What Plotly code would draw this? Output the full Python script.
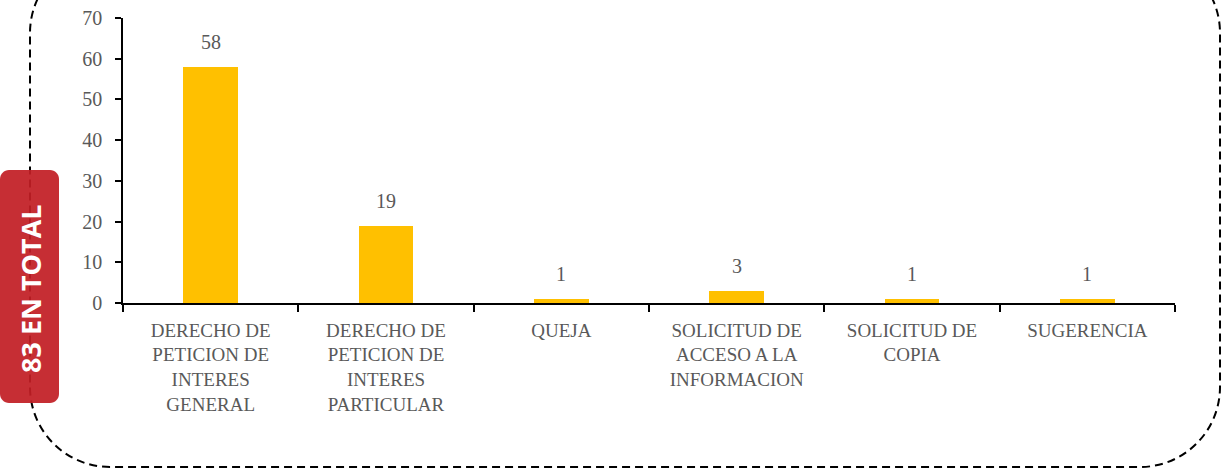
import plotly.graph_objects as go

categories = [
    "DERECHO DE<br>PETICION DE<br>INTERES<br>GENERAL",
    "DERECHO DE<br>PETICION DE<br>INTERES<br>PARTICULAR",
    "QUEJA",
    "SOLICITUD DE<br>ACCESO A LA<br>INFORMACION",
    "SOLICITUD DE<br>COPIA",
    "SUGERENCIA",
]
values = [58, 19, 1, 3, 1, 1]
total_label = "83 EN TOTAL"

SERIF = "Liberation Serif, Times New Roman, DejaVu Serif, serif"

W, H = 1229, 476
L, R, T, B = 123, 54, 18, 173
PW, PH = W - L - R, H - T - B


def px(x):
    return (x - L) / PW


def py(y):
    return (H - B - y) / PH


def rounded_path(x0, y0, x1, y1, r):
    k = 0.5523 * r
    pts = [
        ("M", [(x0 + r, y0)]),
        ("L", [(x1 - r, y0)]),
        ("C", [(x1 - r + k, y0), (x1, y0 + r - k), (x1, y0 + r)]),
        ("L", [(x1, y1 - r)]),
        ("C", [(x1, y1 - r + k), (x1 - r + k, y1), (x1 - r, y1)]),
        ("L", [(x0 + r, y1)]),
        ("C", [(x0 + r - k, y1), (x0, y1 - r + k), (x0, y1 - r)]),
        ("L", [(x0, y0 + r)]),
        ("C", [(x0, y0 + r - k), (x0 + r - k, y0), (x0 + r, y0)]),
    ]
    s = ""
    for cmd, ps in pts:
        s += cmd + " " + " ".join(f"{px(a):.5f},{py(b):.5f}" for a, b in ps) + " "
    return s + "Z"


fig = go.Figure()
fig.add_trace(go.Bar(
    x=categories, y=values, width=0.31,
    marker=dict(color="#FFC000", line=dict(width=0)),
    hoverinfo="skip",
))

for c, v in zip(categories, values):
    fig.add_annotation(
        x=c, y=v, text=str(v), showarrow=False, yanchor="bottom", yshift=12,
        font=dict(family=SERIF, size=20, color="#595959"),
    )

# dashed rounded frame
fig.add_shape(
    type="path", xref="paper", yref="paper",
    path=rounded_path(30, -47, 1220, 467, 80),
    line=dict(color="black", width=2, dash="8px,5px"),
    fillcolor="rgba(0,0,0,0)", layer="above",
)
# red label box
fig.add_shape(
    type="path", xref="paper", yref="paper",
    path=rounded_path(0, 170, 59, 403, 9),
    line=dict(width=0), fillcolor="rgba(194,30,37,0.93)", layer="above",
)
fig.add_annotation(
    xref="paper", yref="paper", x=px(30), y=py(289), text=f"<b>{total_label}</b>",
    showarrow=False, textangle=-90, xanchor="center", yanchor="middle",
    font=dict(family="Open Sans", size=27, color="white"),
)

fig.update_layout(
    width=W, height=H, margin=dict(l=L, r=R, t=T, b=B, autoexpand=False),
    paper_bgcolor="white", plot_bgcolor="white", showlegend=False,
    bargap=0,
)
fig.update_xaxes(
    showline=True, linecolor="black", linewidth=1.5, showgrid=False,
    ticks="outside", tickson="boundaries", ticklen=7, tickcolor="black", tickwidth=1.5,
    tickfont=dict(family=SERIF, size=19, color="#595959"),
    tickangle=0, ticklabelstandoff=9,
)
fig.update_yaxes(
    range=[0, 70], dtick=10, showline=True, linecolor="black", linewidth=1.5,
    showgrid=False, zeroline=False, ticks="outside", ticklen=6, tickcolor="black",
    tickwidth=1.5, ticklabelstandoff=9,
    tickfont=dict(family=SERIF, size=20, color="#595959"),
)

fig.write_html(
    "out.html",
    config={"displayModeBar": False},
    post_script="document.body.style.margin='0';document.body.style.padding='0';"
                "window.dispatchEvent(new Event('resize'));",
)
